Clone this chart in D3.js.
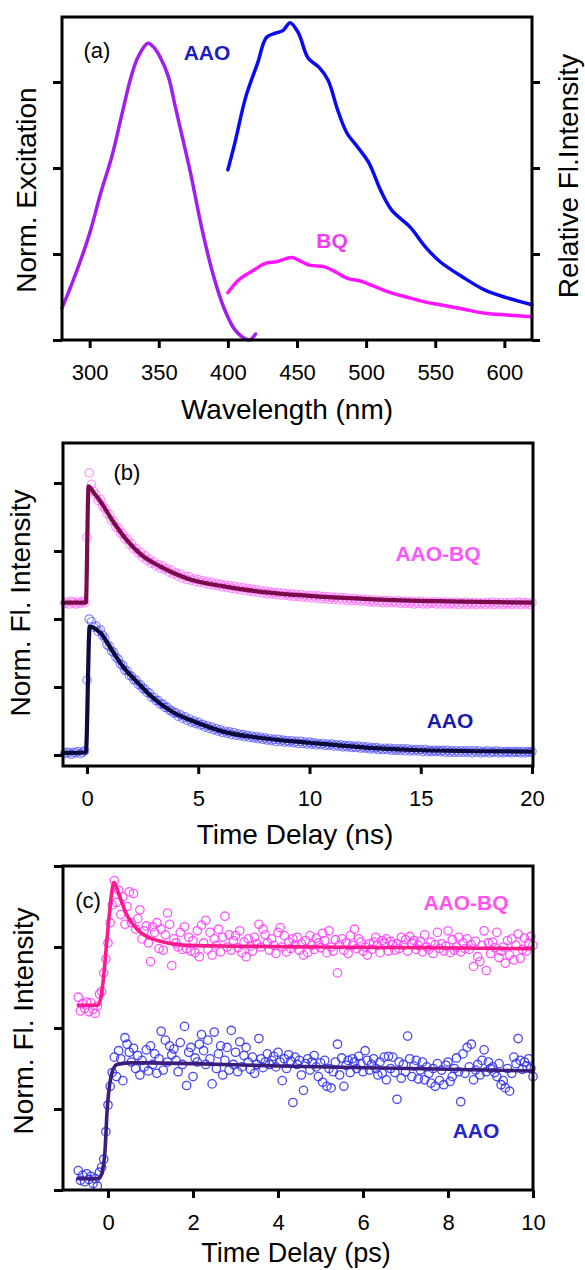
<!DOCTYPE html>
<html>
<head>
<meta charset="utf-8">
<script src="https://cdn.jsdelivr.net/npm/d3@7"></script>
<style>
  html, body { margin: 0; padding: 0; background: #fff; }
  svg { display: block; font-family: "Liberation Sans", Arial, Helvetica, sans-serif; }
</style>
</head>
<body>
<svg id="fig" width="585" height="1270"></svg>
<script>
// ---------- (a) steady-state spectra: [wavelength (nm), intensity] ----------
const excitationBQ = [
  [280,0.37],[289,0.73],[300,1.24],[308,1.71],[316,2.13],[324,2.67],[330,3.06],[335,3.29],
  [342,3.45],[346,3.41],[351,3.29],[357,3.06],[362,2.71],[367.5,2.33],[373,1.94],[381,1.31],
  [389,0.78],[397,0.38],[405,0.12],[413,0.01],[416,0.0],[420,0.07]
];
const emissionAAO = [
  [400,1.98],[405,2.29],[413,2.83],[421.5,3.22],[428,3.52],[435,3.57],[440,3.6],[445,3.69],
  [451,3.57],[458,3.28],[466,3.17],[472.5,3.02],[479.5,2.67],[486,2.41],[494,2.24],[502,2.06],
  [510.5,1.74],[518.5,1.51],[532,1.31],[543,1.08],[553.5,0.91],[570,0.73],[586,0.58],[602,0.49],[620,0.41]
];
const emissionBQ = [
  [400,0.55],[408,0.70],[418.5,0.81],[427,0.89],[435,0.91],[446,0.96],[451,0.93],[459,0.87],
  [470,0.85],[478,0.79],[486,0.72],[497,0.68],[505,0.63],[516,0.56],[529,0.50],[543,0.44],
  [553.5,0.41],[570,0.36],[586,0.31],[602,0.29],[620,0.27]
];
const wavelengthTicks = [300, 350, 400, 450, 500, 550, 600];
const spectraTicks = [0, 1, 2, 3];

// ---------- (b) ns fluorescence decays (channel width 0.1 ns from -1.0 ns) ----------
const nsStart = -1.0, nsStep = 0.1;
const nsDecayAAOBQ = [
  2.23,2.25,2.22,2.26,2.24,2.22,2.25,2.23,2.26,2.24,
  3.20,4.15,3.98,3.88,3.83,3.74,3.76,3.66,3.63,3.55,
  3.54,3.45,3.44,3.35,3.34,3.26,3.26,3.18,3.18,3.10,
  3.11,3.03,3.04,2.97,2.98,2.91,2.93,2.86,2.88,2.82,
  2.84,2.78,2.80,2.75,2.78,2.73,2.74,2.69,2.72,2.66,
  2.68,2.63,2.66,2.60,2.63,2.58,2.62,2.57,2.59,2.55,
  2.58,2.54,2.56,2.52,2.55,2.51,2.54,2.50,2.52,2.49,
  2.51,2.47,2.50,2.46,2.49,2.45,2.48,2.44,2.47,2.43,
  2.46,2.42,2.45,2.41,2.44,2.40,2.43,2.39,2.42,2.38,
  2.41,2.37,2.40,2.37,2.39,2.36,2.39,2.35,2.38,2.35,
  2.37,2.34,2.37,2.33,2.36,2.33,2.36,2.32,2.35,2.32,
  2.35,2.31,2.34,2.31,2.34,2.30,2.33,2.30,2.33,2.29,
  2.32,2.29,2.32,2.28,2.31,2.28,2.31,2.27,2.30,2.27,
  2.30,2.27,2.29,2.26,2.29,2.26,2.29,2.25,2.28,2.25,
  2.28,2.25,2.27,2.24,2.27,2.24,2.27,2.24,2.26,2.24,
  2.27,2.23,2.26,2.23,2.26,2.23,2.26,2.22,2.25,2.23,
  2.26,2.22,2.25,2.22,2.25,2.23,2.25,2.22,2.25,2.22,
  2.25,2.22,2.25,2.22,2.24,2.22,2.25,2.21,2.24,2.22,
  2.25,2.21,2.24,2.22,2.24,2.21,2.24,2.22,2.24,2.21,
  2.24,2.22,2.25,2.21,2.24,2.22,2.24,2.21,2.24,2.22,
  2.24,2.21,2.24,2.22,2.25,2.21,2.24,2.22,2.24,2.21,
  2.24
];
const nsDecayAAO = [
  0.02,0.04,0.03,0.01,0.04,0.03,0.05,0.02,0.04,0.06,
  1.10,2.00,1.96,1.88,1.90,1.82,1.84,1.76,1.72,1.62,
  1.60,1.53,1.51,1.44,1.41,1.34,1.32,1.25,1.24,1.17,
  1.16,1.11,1.10,1.04,1.03,0.98,0.97,0.92,0.91,0.85,
  0.85,0.80,0.80,0.75,0.75,0.70,0.70,0.66,0.65,0.62,
  0.62,0.57,0.59,0.54,0.56,0.51,0.53,0.48,0.50,0.46,
  0.48,0.44,0.45,0.41,0.43,0.39,0.41,0.37,0.39,0.35,
  0.37,0.33,0.35,0.32,0.34,0.30,0.33,0.29,0.31,0.28,
  0.30,0.27,0.29,0.26,0.28,0.25,0.27,0.24,0.26,0.23,
  0.25,0.22,0.24,0.21,0.23,0.20,0.23,0.20,0.22,0.19,
  0.21,0.19,0.21,0.18,0.20,0.17,0.20,0.17,0.19,0.16,
  0.19,0.16,0.18,0.15,0.17,0.15,0.17,0.14,0.16,0.14,
  0.16,0.13,0.15,0.13,0.15,0.12,0.14,0.12,0.14,0.11,
  0.13,0.11,0.13,0.10,0.12,0.10,0.12,0.09,0.11,0.09,
  0.11,0.08,0.10,0.08,0.10,0.08,0.10,0.07,0.09,0.07,
  0.09,0.07,0.09,0.06,0.09,0.06,0.08,0.06,0.08,0.06,
  0.08,0.05,0.08,0.05,0.07,0.05,0.07,0.05,0.07,0.05,
  0.07,0.04,0.07,0.04,0.06,0.04,0.06,0.04,0.06,0.04,
  0.06,0.04,0.06,0.03,0.06,0.04,0.06,0.03,0.05,0.04,
  0.06,0.03,0.05,0.04,0.06,0.03,0.05,0.03,0.05,0.04,
  0.05,0.03,0.05,0.04,0.05,0.03,0.05,0.03,0.05,0.04,
  0.05
];
const nsFitAAOBQ = [
  [-1.08,2.24],[-0.05,2.24],[0.07,3.95],[0.3,3.86],[0.62,3.72],[1.12,3.46],[1.79,3.16],
  [2.46,2.94],[3.3,2.77],[4.47,2.60],[6.16,2.48],[7.83,2.40],[10,2.34],[12.9,2.29],[16.2,2.26],[20,2.24]
];
const nsFitAAO = [
  [-1.08,0.03],[-0.05,0.04],[0.12,1.89],[0.3,1.87],[0.62,1.79],[1.12,1.54],[1.62,1.30],[2.29,1.06],
  [2.97,0.84],[3.81,0.64],[4.98,0.47],[6.16,0.34],[7.83,0.25],[10,0.18],[12.9,0.10],[15,0.07],[20,0.05]
];
const nsTicks = [0, 5, 10, 15, 20];
const nsYTicks = [0, 1, 2, 3, 4];

// ---------- (c) ps up-conversion traces (step 0.05 ps from -0.7 ps) ----------
const psStart = -0.7, psStep = 0.05;
const psTraceAAOBQ = [
  2.38,2.21,2.30,2.24,2.32,2.20,2.31,2.23,2.18,2.27,
  2.42,2.45,2.68,2.85,3.05,3.30,3.52,3.82,3.55,3.70,
  3.40,3.62,3.28,3.50,3.68,3.30,3.66,3.22,3.35,3.46,
  3.10,3.20,3.26,3.05,2.82,3.25,3.18,3.30,2.98,3.22,
  2.96,3.15,3.42,3.28,2.77,3.10,3.05,3.00,3.18,2.97,
  3.25,2.98,3.12,2.95,3.08,2.93,3.20,2.88,3.27,3.05,
  3.33,2.97,3.18,2.90,3.10,3.02,3.22,2.94,3.12,3.38,
  3.00,3.15,2.96,3.08,3.14,2.99,3.20,2.93,3.06,2.88,
  3.10,3.01,2.95,3.12,3.04,3.28,3.00,3.22,3.15,3.05,
  2.96,3.10,3.02,2.92,3.18,3.24,3.00,3.14,2.94,3.06,
  2.98,3.10,3.02,3.12,2.96,3.04,2.90,3.08,2.93,3.14,
  3.02,2.97,3.11,3.05,2.99,3.17,3.08,2.93,3.20,3.00,
  2.95,3.09,2.68,3.03,3.10,2.96,3.05,2.92,3.14,3.02,
  3.22,2.98,3.10,3.06,2.95,3.00,2.90,3.04,2.97,3.06,
  3.12,3.02,2.93,3.08,3.05,3.10,2.95,3.07,3.03,2.96,
  3.04,2.98,3.12,3.02,3.09,2.95,3.13,3.05,3.08,2.97,
  3.02,3.07,2.94,3.15,3.00,2.97,3.06,2.92,3.03,3.18,
  2.98,3.04,2.95,3.01,3.20,2.93,3.09,2.96,3.00,3.12,
  2.94,3.05,2.98,3.10,2.97,3.03,2.76,3.07,2.88,2.82,
  3.02,3.20,2.71,3.05,2.92,3.06,2.99,3.18,2.87,2.95,
  3.00,2.80,3.08,2.90,3.10,2.84,3.02,3.16,2.86,2.97,
  3.11,2.95,3.05,3.13,3.02
];
const psTraceAAO = [
  0.24,0.12,0.18,0.10,0.20,0.13,0.17,0.08,0.14,0.05,
  0.22,0.28,0.38,0.72,1.05,1.28,1.45,1.64,1.40,1.72,
  1.62,1.35,1.88,1.80,1.70,1.58,1.75,1.50,1.66,1.42,
  1.60,1.52,1.73,1.47,1.78,1.55,1.68,1.44,1.62,1.96,
  1.48,1.85,1.58,1.78,1.67,1.74,1.60,1.46,1.82,1.55,
  2.02,1.29,1.70,1.76,1.40,1.63,1.58,1.80,1.92,1.72,
  1.55,1.85,1.62,1.31,1.95,1.50,1.68,1.78,1.42,1.60,
  1.76,1.48,1.97,1.55,1.70,1.46,1.83,1.52,1.66,1.76,
  1.58,1.49,1.64,1.44,1.55,1.87,1.62,1.51,1.58,1.68,
  1.55,1.60,1.65,1.52,1.70,1.58,1.35,1.62,1.50,1.67,
  1.59,1.08,1.64,1.55,1.60,1.42,1.23,1.56,1.62,1.48,
  1.58,1.66,1.52,1.40,1.57,1.33,1.60,1.28,1.50,1.26,
  1.46,1.58,1.80,1.42,1.63,1.28,1.54,1.60,1.45,1.62,
  1.58,1.50,1.65,1.56,1.46,1.72,1.60,1.48,1.55,1.62,
  1.50,1.42,1.58,1.44,1.64,1.36,1.65,1.50,1.64,1.45,
  1.12,1.58,1.38,1.55,1.46,1.90,1.62,1.40,1.53,1.60,
  1.37,1.48,1.58,1.36,1.52,1.44,1.32,1.50,1.28,1.56,
  1.35,1.48,1.30,1.54,1.58,1.34,1.40,1.50,1.63,1.46,
  1.09,1.68,1.44,1.76,1.52,1.80,1.36,1.48,1.55,1.42,
  1.60,1.73,1.46,1.58,1.50,1.52,1.45,1.40,1.56,1.30,
  1.35,1.26,1.50,1.22,1.44,1.64,1.56,1.87,1.60,1.49,
  1.58,1.53,1.62,1.50,1.40
];
const psFitAAOBQ = [
  [-0.7,2.28],[-0.25,2.28],[-0.2,2.31],[-0.12,2.55],[-0.04,3.0],[0.04,3.45],[0.14,3.8],
  [0.25,3.66],[0.44,3.40],[0.6,3.27],[0.79,3.17],[1.0,3.11],[1.23,3.07],[1.5,3.04],
  [1.85,3.02],[3,3.01],[5,3.0],[7.5,2.99],[10,2.98]
];
const psFitAAO = [
  [-0.7,0.14],[-0.22,0.14],[-0.15,0.2],[-0.07,0.49],[-0.02,0.99],[0.07,1.40],[0.14,1.51],
  [0.21,1.55],[0.5,1.57],[0.96,1.57],[2,1.56],[4.05,1.53],[7.1,1.50],[10,1.47]
];
const psTicks = [0, 2, 4, 6, 8, 10];
const psYTicks = [0, 1, 2, 3, 4];

// ---------- drawing ----------
const svg = d3.select("#fig");
const FONT = '"Liberation Sans", Arial, Helvetica, sans-serif';

function styleAxis(g, labels) {
  g.attr("font-family", FONT).attr("font-size", 22);
  g.select(".domain").remove();
  g.selectAll(".tick line").attr("stroke", "#000").attr("stroke-width", 3);
  g.selectAll(".tick text").attr("fill", "#000");
  if (!labels) g.selectAll(".tick text").remove();
}

function makePanel(box, xDomain, yDomain, xTicks, yTicks, rightTicks) {
  const x = d3.scaleLinear().domain(xDomain).range([box.left, box.right]);
  const y = d3.scaleLinear().domain(yDomain).range([box.bottom, box.top]);
  const g = svg.append("g");
  const data = g.append("g");
  g.append("g").attr("transform", `translate(0,${box.bottom})`)
    .call(d3.axisBottom(x).tickValues(xTicks).tickSize(8).tickPadding(16).tickSizeOuter(0))
    .call(a => styleAxis(a, true));
  g.append("g").attr("transform", `translate(${box.left},0)`)
    .call(d3.axisLeft(y).tickValues(yTicks).tickSize(9).tickSizeOuter(0))
    .call(a => styleAxis(a, false));
  if (rightTicks) {
    g.append("g").attr("transform", `translate(${box.right},0)`)
      .call(d3.axisRight(y).tickValues(yTicks).tickSize(8).tickSizeOuter(0))
      .call(a => styleAxis(a, false));
  }
  g.append("rect")
    .attr("x", box.left).attr("y", box.top)
    .attr("width", box.right - box.left).attr("height", box.bottom - box.top)
    .attr("fill", "none").attr("stroke", "#000").attr("stroke-width", 3);
  return { x, y, data, g };
}

function text(g, str, x, y, opts = {}) {
  const t = g.append("text")
    .attr("x", x).attr("y", y)
    .attr("font-family", FONT)
    .attr("font-size", opts.size || 22)
    .attr("font-weight", opts.bold ? "bold" : "normal")
    .attr("fill", opts.color || "#000")
    .attr("text-anchor", opts.anchor || "middle")
    .text(str);
  if (opts.central) t.attr("dominant-baseline", "central");
  if (opts.rotate) t.attr("transform", `rotate(-90,${x},${y})`);
  return t;
}

function drawLine(p, pts, color, width, curve) {
  const line = d3.line().x(d => p.x(d[0])).y(d => p.y(d[1])).curve(curve || d3.curveMonotoneX);
  p.data.append("path").datum(pts)
    .attr("d", line).attr("fill", "none")
    .attr("stroke", color).attr("stroke-width", width)
    .attr("stroke-linejoin", "round").attr("stroke-linecap", "round");
}

function drawPoints(p, values, t0, dt, color, r, sw, op) {
  p.data.append("g").selectAll("circle")
    .data(values.map((v, i) => [t0 + i * dt, v]))
    .join("circle")
    .attr("cx", d => p.x(d[0])).attr("cy", d => p.y(d[1]))
    .attr("r", r).attr("fill", "none")
    .attr("stroke", color).attr("stroke-width", sw).attr("stroke-opacity", op);
}

// ----- panel (a) -----
const pa = makePanel({ left: 62, right: 532, top: 17, bottom: 340 },
  [280, 620], [0, 323 / 86], wavelengthTicks, spectraTicks, true);
drawLine(pa, excitationBQ, "#a11eef", 3.5, d3.curveCatmullRom);
drawLine(pa, emissionAAO, "#0a0af5", 3.5, d3.curveCatmullRom);
drawLine(pa, emissionBQ, "#ff14ff", 3.5, d3.curveCatmullRom);
text(svg, "(a)", 97, 50, { size: 22, central: true });
text(svg, "AAO", 207, 52, { size: 21, bold: true, color: "#1c1cc4", central: true });
text(svg, "BQ", 332, 240, { size: 21, bold: true, color: "#f03cf0", central: true });
text(svg, "Wavelength (nm)", 287, 419, { size: 28 });
text(svg, "Norm. Excitation", 36, 190, { size: 28, rotate: true });
text(svg, "Relative Fl.Intensity", 578, 176, { size: 28, rotate: true });

// ----- panel (b) -----
const pb = makePanel({ left: 63, right: 533, top: 443, bottom: 766 },
  [-24 / 22.25, 470 / 22.25 - 24 / 22.25], [-11 / 68, 312 / 68], nsTicks, nsYTicks, false);
drawPoints(pb, nsDecayAAOBQ, nsStart, nsStep, "#ff5cff", 4.2, 1.2, 0.65);
drawPoints(pb, nsDecayAAO, nsStart, nsStep, "#4a4aff", 4.2, 1.2, 0.65);
drawLine(pb, nsFitAAOBQ, "#7a0c4c", 4.2);
drawLine(pb, nsFitAAO, "#0b0b3e", 4.2);
text(svg, "(b)", 127, 472, { size: 22, central: true });
text(svg, "AAO-BQ", 438, 553, { size: 21, bold: true, color: "#ff55ff", central: true });
text(svg, "AAO", 450, 720, { size: 21, bold: true, color: "#1a1aa8", central: true });
text(svg, "Time Delay (ns)", 295, 844, { size: 28 });
text(svg, "Norm. Fl. Intensity", 30, 603, { size: 28, rotate: true });

// ----- panel (c) -----
const pc = makePanel({ left: 63, right: 533, top: 866, bottom: 1190 },
  [-45 / 42.5, 10], [0, 4], psTicks, psYTicks, false);
drawPoints(pc, psTraceAAOBQ, psStart, psStep, "#ff44ff", 4.2, 1.3, 0.9);
drawPoints(pc, psTraceAAO, psStart, psStep, "#3434f0", 4.2, 1.3, 0.9);
drawLine(pc, psFitAAOBQ, "#ff1a8c", 3.6);
drawLine(pc, psFitAAO, "#3b1d7c", 3.6);
text(svg, "(c)", 88, 900, { size: 22, central: true });
text(svg, "AAO-BQ", 466, 902, { size: 21, bold: true, color: "#ff55ee", central: true });
text(svg, "AAO", 476, 1130, { size: 21, bold: true, color: "#2323d0", central: true });
text(svg, "Time Delay (ps)", 296, 1262, { size: 27 });
text(svg, "Norm. Fl. Intensity", 33, 1021, { size: 28, rotate: true });
</script>
</body>
</html>
